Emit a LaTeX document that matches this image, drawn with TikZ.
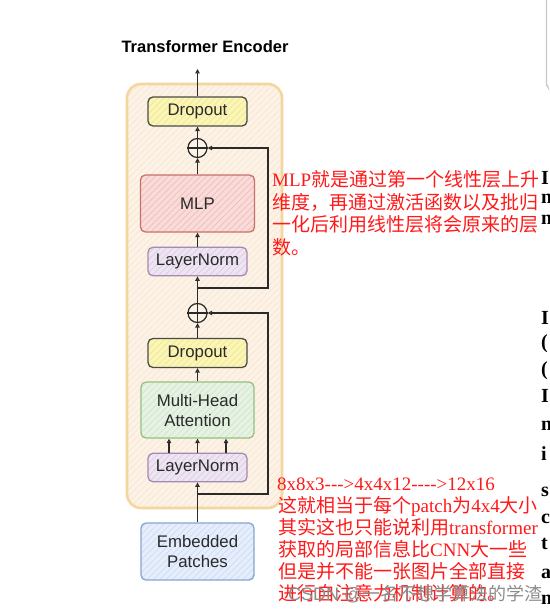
\documentclass[tikz,border=0pt]{standalone}
\usepackage{fontspec}
\setmainfont{Liberation Serif}
\newfontfamily\cjk{Noto Sans CJK SC}
\newfontfamily\arialf{Liberation Sans}
\usetikzlibrary{arrows.meta,patterns.meta}
\definecolor{encF}{HTML}{FDF2E6}
\definecolor{encH}{HTML}{F8E6D2}
\definecolor{encB}{HTML}{F3D79F}
\definecolor{ylF}{HTML}{FBF6B8}
\definecolor{ylH}{HTML}{F0E88A}
\definecolor{ylB}{HTML}{4A4A4A}
\definecolor{rdF}{HTML}{F9DCDA}
\definecolor{rdH}{HTML}{F0BCB8}
\definecolor{rdB}{HTML}{C8706C}
\definecolor{puF}{HTML}{EEE5F2}
\definecolor{puH}{HTML}{DCCBE4}
\definecolor{puB}{HTML}{A58AB4}
\definecolor{grF}{HTML}{E6F2E3}
\definecolor{grH}{HTML}{CFE5CA}
\definecolor{grB}{HTML}{96C07F}
\definecolor{blF}{HTML}{E6EEFB}
\definecolor{blH}{HTML}{CCDCF5}
\definecolor{blB}{HTML}{86A5D1}
\definecolor{ink}{HTML}{2A2A2A}
\definecolor{note}{HTML}{FF1A1A}
\definecolor{wm}{HTML}{8C8C8C}
\tikzset{
  boxbase/.style={rounded corners=5pt, line width=1.3pt, inner sep=0pt, text=ink,
    font=\arialf\fontsize{16.8}{20}\selectfont, align=center},
  hatch/.style 2 args={preaction={fill=#1}, pattern={Lines[angle=45,distance=4.5pt,line width=0.7pt]}, pattern color=#2},
  ybox/.style={boxbase, draw=ylB, hatch={ylF}{ylH}, minimum width=99pt, minimum height=29pt},
  rbox/.style={boxbase, draw=rdB, hatch={rdF}{rdH}, minimum width=114pt, minimum height=57pt},
  pbox/.style={boxbase, draw=puB, hatch={puF}{puH}, minimum width=99pt, minimum height=28.5pt},
  gbox/.style={boxbase, draw=grB, hatch={grF}{grH}, minimum width=113pt, minimum height=56pt},
  bbox/.style={boxbase, draw=blB, hatch={blF}{blH}, minimum width=113pt, minimum height=57pt},
  plusnode/.style={circle, draw=ink, line width=1.2pt, minimum size=19pt, inner sep=0pt},
  conn/.style={draw=ink, line width=1.2pt, -{Triangle[open,length=4.5pt,width=4.5pt]}},
  notetext/.style={anchor=base west, inner sep=0pt, text=note, font=\fontsize{19}{22}\selectfont},
  sidetext/.style={anchor=base west, inner sep=0pt, text=black, font=\bfseries\fontsize{20}{24}\selectfont},
}
\newcommand{\cj}[1]{{\cjk #1}}
\begin{document}
\begin{tikzpicture}[x=1pt,y=-1pt]
\useasboundingbox (0,0) rectangle (549,612);
\fill[white] (0,0) rectangle (549,612);

% title
\node[inner sep=0pt, text=black, font=\arialf\bfseries\fontsize{16.5}{19}\selectfont] (title) at (205,47) {Transformer Encoder};

% encoder container
\node[draw=encB, line width=2.6pt, rounded corners=14pt, hatch={encF}{encH}, minimum width=155pt, minimum height=424pt, inner sep=0pt] (enc) at (204.5,296) {};

% blocks
\node[ybox] (drop1) at (197.5,111.5) {Dropout};
\node[plusnode, fill=encF] (plus1) at (197.5,148) {};
\node[rbox] (mlp) at (197.5,203.5) {MLP};
\node[pbox] (ln1) at (197.5,261.5) {LayerNorm};
\node[plusnode, fill=encF] (plus2) at (197.5,313) {};
\node[ybox] (drop2) at (197.5,353) {Dropout};
\node[gbox] (mha) at (197.5,410) {Multi-Head\\Attention};
\node[pbox] (ln2) at (197.5,467.5) {LayerNorm};
\node[bbox] (emb) at (197.5,551.5) {Embedded\\Patches};

\draw[ink, line width=1.1pt] (plus1.north) -- (plus1.south) (plus1.west) -- (plus1.east);
\draw[ink, line width=1.1pt] (plus2.north) -- (plus2.south) (plus2.west) -- (plus2.east);

% connectors
\coordinate (out) at (197.5,69);
\coordinate (rx) at (268,0);
\coordinate (b1) at (197.5,288);
\coordinate (b2) at (197.5,494);
\draw[conn] (drop1.north) -- (out);
\draw[conn] (plus1.north) -- (drop1.south);
\draw[conn] (mlp.north) -- (plus1.south);
\draw[conn] (ln1.north) -- (mlp.south);
\draw[conn] (plus2.north) -- (ln1.south);
\draw[conn] (b1) -- (b1 -| rx) |- (plus1.east);
\draw[conn] (drop2.north) -- (plus2.south);
\draw[conn] (mha.north) -- (drop2.south);
\draw[conn] ([xshift=-28.5pt]ln2.north) -- ([xshift=-28.5pt]mha.south);
\draw[conn] (ln2.north) -- (mha.south);
\draw[conn] ([xshift=28.5pt]ln2.north) -- ([xshift=28.5pt]mha.south);
\draw[conn] (emb.north) -- (ln2.south);
\draw[conn] (b2) -- (b2 -| rx) |- (plus2.east);

% annotations
\node[notetext] (n1) at (272,187) {MLP\cj{就是通过第一个线性层上升}};
\node[notetext] (n2) at (272,209) {\cj{维度，再通过激活函数以及批归}};
\node[notetext] (n3) at (272,231.5) {\cj{一化后利用线性层将会原来的层}};
\node[notetext] (n4) at (272,254) {\cj{数。}};

\node[notetext] (m1) at (277,490) {8x8x3-{}-{}->4x4x12-{}-{}-{}->12x16};
\node[notetext] (m2) at (278,512) {\cj{这就相当于每个}patch\cj{为}4x4\cj{大小}};
\node[notetext] (m3) at (278,534) {\cj{其实这也只能说利用}transformer};
\node[notetext] (m4) at (278,556) {\cj{获取的局部信息比}CNN\cj{大一些}};
\node[notetext] (m5) at (278,578) {\cj{但是并不能一张图片全部直接}};
\node[notetext] (m6) at (278,600) {\cj{进行自注意力机制计算的。}};
\node[anchor=base west, inner sep=0pt, text=wm, font=\fontsize{18}{20}\selectfont] (wmk) at (288,600) {\arialf CSDN @\cj{一名不想学算法的学渣}};

% clipped background page at the right edge
\begin{scope}
\clip (0,0) rectangle (549,612);
\draw[draw={rgb,255:red,200;green,200;blue,200}, line width=1.2pt] (546.5,-2) -- (546.5,86) to[out=90,in=180] (556,97);
\node[sidetext] at (541,185) {I};
\node[sidetext] at (541,204) {n};
\node[sidetext] at (541,225) {n};
\node[sidetext] at (541,324) {I};
\node[sidetext] at (541,348) {(};
\node[sidetext] at (541,375) {(};
\node[sidetext] at (541,402) {I};
\node[sidetext] at (541,430) {n};
\node[sidetext] at (541,460) {i};
\node[sidetext] at (541,496) {s};
\node[sidetext] at (541,523) {c};
\node[sidetext] at (541,549) {t};
\node[sidetext] at (541,578) {a};
\node[sidetext] at (541,604) {n};
\end{scope}
\end{tikzpicture}
\end{document}
